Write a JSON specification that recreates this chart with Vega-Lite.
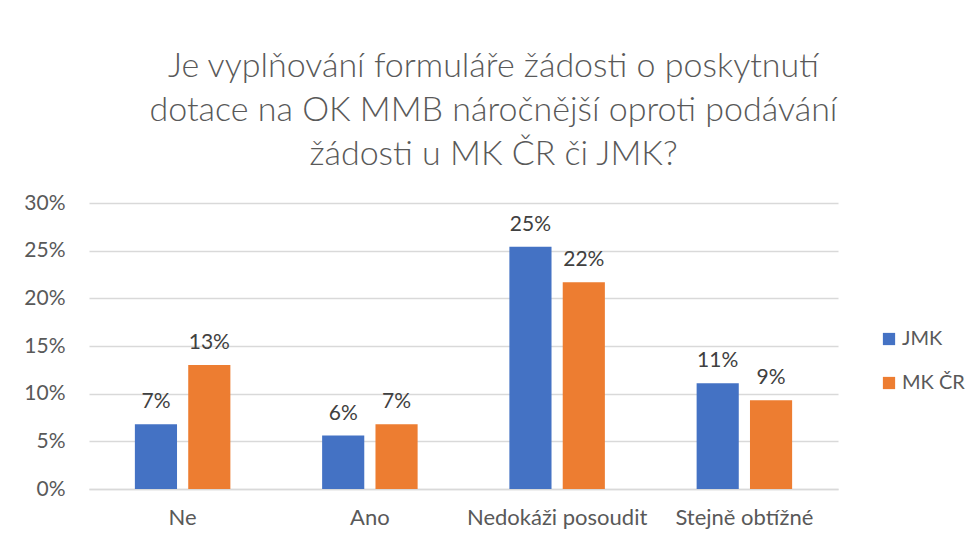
{
  "$schema": "https://vega.github.io/schema/vega-lite/v6.json",
  "autosize": {"type": "none"},
  "padding": {"left": 89, "top": 203, "right": 138, "bottom": 55},
  "width": 749,
  "height": 286,
  "background": "white",
  "title": {
    "text": ["Je vyplňování formuláře žádosti o poskytnutí", "dotace na OK MMB náročnější oproti podávání", "žádosti u MK ČR či JMK?"],
    "font": "Lato",
    "fontSize": 34,
    "fontWeight": 300,
    "color": "#595959",
    "lineHeight": 44,
    "anchor": "middle",
    "dx": 30,
    "offset": 20
  },
  "data": {
    "values": [
      {"kategorie": "Ne", "serie": "JMK", "hodnota": 0.068},
      {"kategorie": "Ne", "serie": "MK ČR", "hodnota": 0.13},
      {"kategorie": "Ano", "serie": "JMK", "hodnota": 0.056},
      {"kategorie": "Ano", "serie": "MK ČR", "hodnota": 0.068},
      {"kategorie": "Nedokáži posoudit", "serie": "JMK", "hodnota": 0.254},
      {"kategorie": "Nedokáži posoudit", "serie": "MK ČR", "hodnota": 0.217},
      {"kategorie": "Stejně obtížné", "serie": "JMK", "hodnota": 0.111},
      {"kategorie": "Stejně obtížné", "serie": "MK ČR", "hodnota": 0.093}
    ]
  },
  "encoding": {
    "x": {
      "field": "kategorie",
      "type": "nominal",
      "sort": ["Ne", "Ano", "Nedokáži posoudit", "Stejně obtížné"],
      "scale": {"paddingInner": 0.49, "paddingOuter": 0.245},
      "axis": {
        "title": null,
        "labelAngle": 0,
        "labelFont": "Lato",
        "labelFontSize": 22,
        "labelColor": "#595959",
        "labelPadding": 18,
        "labelLimit": 400,
        "ticks": false,
        "domainColor": "#d9d9d9",
        "domainWidth": 1.5
      }
    },
    "xOffset": {
      "field": "serie",
      "type": "nominal",
      "scale": {"paddingInner": 0.21, "paddingOuter": 0}
    },
    "y": {
      "field": "hodnota",
      "type": "quantitative",
      "scale": {"domain": [0, 0.3]},
      "axis": {
        "title": null,
        "format": ".0%",
        "values": [0, 0.05, 0.1, 0.15, 0.2, 0.25, 0.3],
        "labelFont": "Lato",
        "labelFontSize": 21,
        "labelColor": "#595959",
        "labelPadding": 24,
        "ticks": false,
        "domain": false,
        "gridColor": "#d9d9d9",
        "gridWidth": 1.5
      }
    }
  },
  "layer": [
    {
      "mark": {"type": "bar"},
      "encoding": {
        "color": {
          "field": "serie",
          "type": "nominal",
          "scale": {"domain": ["JMK", "MK ČR"], "range": ["#4472C4", "#ED7D31"]},
          "legend": {
            "title": null,
            "orient": "none",
            "legendX": 790,
            "legendY": 126,
            "symbolType": "square",
            "symbolSize": 150,
            "symbolStrokeWidth": 0,
            "labelFont": "Lato",
            "labelFontSize": 20,
            "labelColor": "#595959",
            "rowPadding": 24,
            "labelOffset": 3
          }
        }
      }
    },
    {
      "mark": {"type": "text", "baseline": "bottom", "dy": -12, "font": "Lato", "fontSize": 21, "color": "#404040"},
      "encoding": {
        "text": {"field": "hodnota", "type": "quantitative", "format": ".0%"}
      }
    }
  ],
  "config": {"view": {"stroke": null}}
}
